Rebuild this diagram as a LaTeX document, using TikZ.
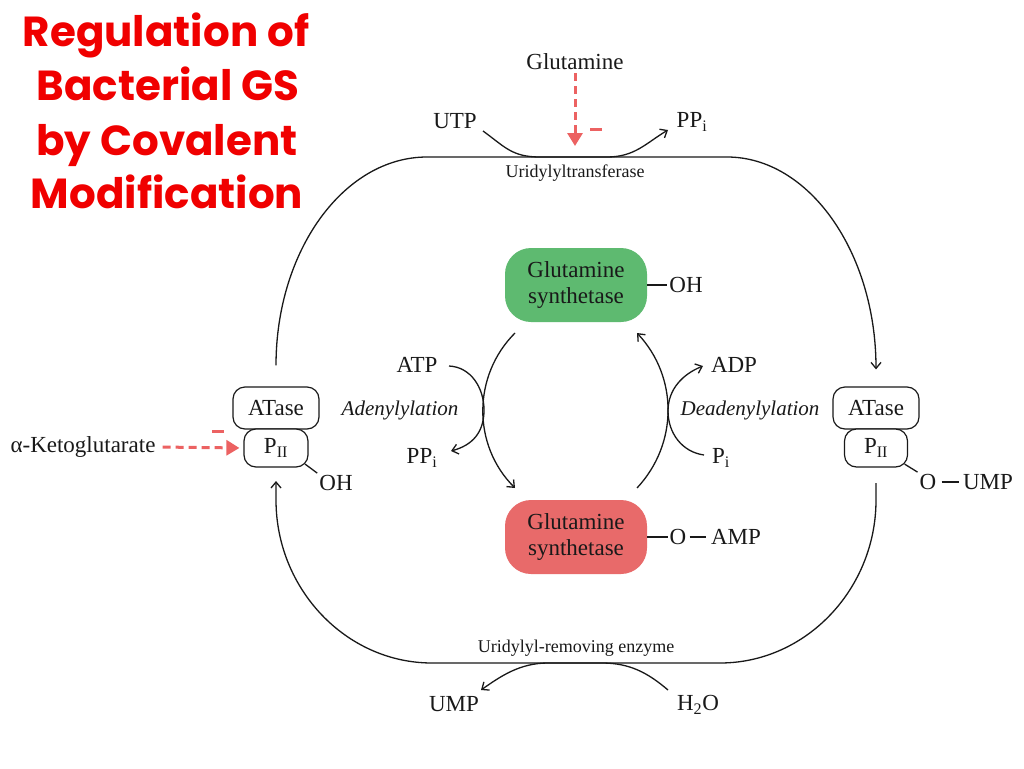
\documentclass[tikz,border=0pt]{standalone}
\usepackage{fontspec}
\setmainfont{Liberation Serif}
\newfontfamily\titlefont{Poppins}
\usetikzlibrary{arrows.meta,calc}
\definecolor{ttred}{RGB}{240,0,0}
\definecolor{inhred}{RGB}{236,98,98}
\definecolor{gsgreen}{RGB}{94,186,112}
\definecolor{gsred}{RGB}{232,106,106}
\definecolor{ink}{RGB}{25,25,25}
\begin{document}
\begin{tikzpicture}[x=1pt,y=-1pt,
  lab/.style={font=\fontsize{23}{26}\selectfont, inner sep=2pt, text=ink},
  small/.style={font=\fontsize{18}{20}\selectfont, inner sep=1pt, text=ink},
  itl/.style={font=\fontsize{21}{24}\selectfont\itshape, inner sep=1pt, text=ink},
  ttl/.style={font=\fontsize{42}{54}\selectfont\titlefont\bfseries, text=ttred, inner sep=0pt, anchor=base},
  enz/.style={draw=ink, line width=1.2pt, rounded corners=12pt, minimum height=42pt, inner sep=0pt, fill=white, font=\fontsize{23}{26}\selectfont, text=ink},
  gs/.style={rounded corners=26pt, minimum width=142pt, minimum height=74pt, align=center, inner sep=0pt, font=\fontsize{23}{26}\selectfont, text=ink},
  conn/.style={line width=1.3pt, draw=ink},
  arr/.style={conn, -{Straight Barb[length=6pt,width=10pt]}},
  inh/.style={draw=inhred, line width=3pt, dash pattern=on 8pt off 5pt, -{Triangle[length=13pt,width=15pt]}},
  negbar/.style={fill=inhred, minimum width=12pt, minimum height=3pt, inner sep=0pt}
]
\fill[white] (0,0) rectangle (1024,768);
\useasboundingbox (0,0) rectangle (1024,768);

% title
\node[ttl] (t1) at (166,47) {Regulation of};
\node[ttl] (t2) at (168,100) {Bacterial GS};
\node[ttl] (t3) at (167,155) {by Covalent};
\node[ttl] (t4) at (167,208) {Modification};

% enzyme boxes
\node[enz, minimum width=86pt] (atL) at (276,408) {ATase};
\node[enz, minimum width=64pt, minimum height=38pt] (pL) at (276,448) {P\textsubscript{II}};
\node[enz, minimum width=86pt] (atR) at (876,408) {ATase};
\node[enz, minimum width=63pt, minimum height=38pt] (pR) at (876,448) {P\textsubscript{II}};

% glutamine synthetase
\node[gs, fill=gsgreen] (gsG) at (576,285) {Glutamine\\synthetase};
\node[gs, fill=gsred] (gsR) at (576,537) {Glutamine\\synthetase};

% labels
\node[lab] (glnT) at (575,62) {Glutamine};
\node[lab] (utp) at (455,121) {UTP};
\node[lab] (ppiT) at (692,122) {PP\textsubscript{i}};
\node[small] (ut) at (575,173) {Uridylyltransferase};
\node[lab] (atp) at (417,365) {ATP};
\node[lab] (ppiL) at (422,458) {PP\textsubscript{i}};
\node[itl] (aden) at (400,410) {Adenylylation};
\node[lab] (adp) at (734,365) {ADP};
\node[lab] (piR) at (721,458) {P\textsubscript{i}};
\node[itl] (deaden) at (750,410) {Deadenylylation};
\node[lab] (akg) at (83,447) {α-Ketoglutarate};
\node[lab] (ohL) at (336,483) {OH};
\node[lab] (oU) at (928,482) {O};
\node[lab] (umpR) at (988,482) {UMP};
\node[lab] (ohG) at (686,285) {OH};
\node[lab] (oA) at (678,537) {O};
\node[lab] (amp) at (736,537) {AMP};
\node[small] (ure) at (576,648) {Uridylyl-removing enzyme};
\node[lab] (umpB) at (454,704) {UMP};
\node[lab] (h2o) at (698,705) {H\textsubscript{2}O};

% bonds
\draw[conn] (gsG.east) -- (ohG.west);
\draw[conn] (gsR.east) -- (oA.west);
\draw[conn, shorten <=1pt, shorten >=3pt] (oA.east) -- (amp.west);
\draw[conn, shorten <=3pt, shorten >=2pt] (oU.east) -- (umpR.west);
\draw[conn] ($(pL.south east)+(-3.5,-3.5)$) -- (ohL.north west);
\draw[conn] ($(pR.south east)+(-3.5,-3.5)$) -- (oU.north west);

% big cycle
\coordinate (lTop) at ($(atL.north)+(0,-21)$);
\coordinate (tl) at (427,157);
\coordinate (tr) at (727,157);
\coordinate (rTop) at ($(atR.north)+(0,-17)$);
\draw[arr] (lTop) .. controls +(0,-115) and +(-83,0) .. (tl) -- (tr)
  .. controls +(82,0) and +(0,-117) .. (rTop);

\coordinate (rBot) at (876,483);
\coordinate (rBot2) at (876,500);
\coordinate (br) at (720,663);
\coordinate (bl) at (432,663);
\coordinate (lBot2) at (276,500);
\coordinate (lBot) at (276,481);
\draw[arr] (rBot) -- (rBot2) .. controls +(0,89) and +(86,0) .. (br) -- (bl)
  .. controls +(-86,0) and +(0,89) .. (lBot2) -- (lBot);

% UTP -> PPi
\coordinate (utpS) at (483,131);
\coordinate (u1) at (540,157);
\coordinate (u2) at (607,157);
\coordinate (ppiE) at (668,130);
\draw[arr] (utpS) .. controls +(22,16) and +(-28,0) .. (u1) -- (u2)
  .. controls +(28,0) and +(-22,13) .. (ppiE);

% H2O -> UMP
\coordinate (h2oS) at (668,690);
\coordinate (b2) at (602,663);
\coordinate (b1) at (548,663);
\coordinate (umpE) at (481,690);
\draw[arr] (h2oS) .. controls +(-20,-17) and +(28,0) .. (b2) -- (b1)
  .. controls +(-28,0) and +(20,-14) .. (umpE);

% central arcs
\coordinate (aL1) at (515,333);
\coordinate (aL2) at (515,488);
\coordinate (aR1) at (637,488);
\coordinate (aR2) at (637,333);
\draw[arr] (aL1) to[bend right=45] (aL2);
\draw[arr] (aR1) to[bend right=43] (aR2);

% ATP -> PPi
\coordinate (atpS) at (449,366);
\coordinate (tL) at (484,410);
\coordinate (ppiLE) at (451,451);
\draw[arr] (atpS) .. controls +(22,1) and +(0,-22) .. (tL)
  .. controls +(0,22) and +(22,-6) .. (ppiLE);

% Pi -> ADP
\coordinate (piS) at (704,455);
\coordinate (tR) at (668,411);
\coordinate (adpE) at (703,366);
\draw[arr] (piS) .. controls +(-22,-3) and +(0,22) .. (tR)
  .. controls +(0,-22) and +(-20,8) .. (adpE);

% inhibition arrows
\coordinate (glnTip) at (575,146);
\draw[inh, shorten <=1pt] (glnT.south) -- (glnTip);
\node[negbar] (m1) at (596,129) {};
\draw[inh, shorten <=5pt, shorten >=4pt] (akg.east) -- (pL.west);
\node[negbar] (m2) at (218,431) {};
\end{tikzpicture}
\end{document}
